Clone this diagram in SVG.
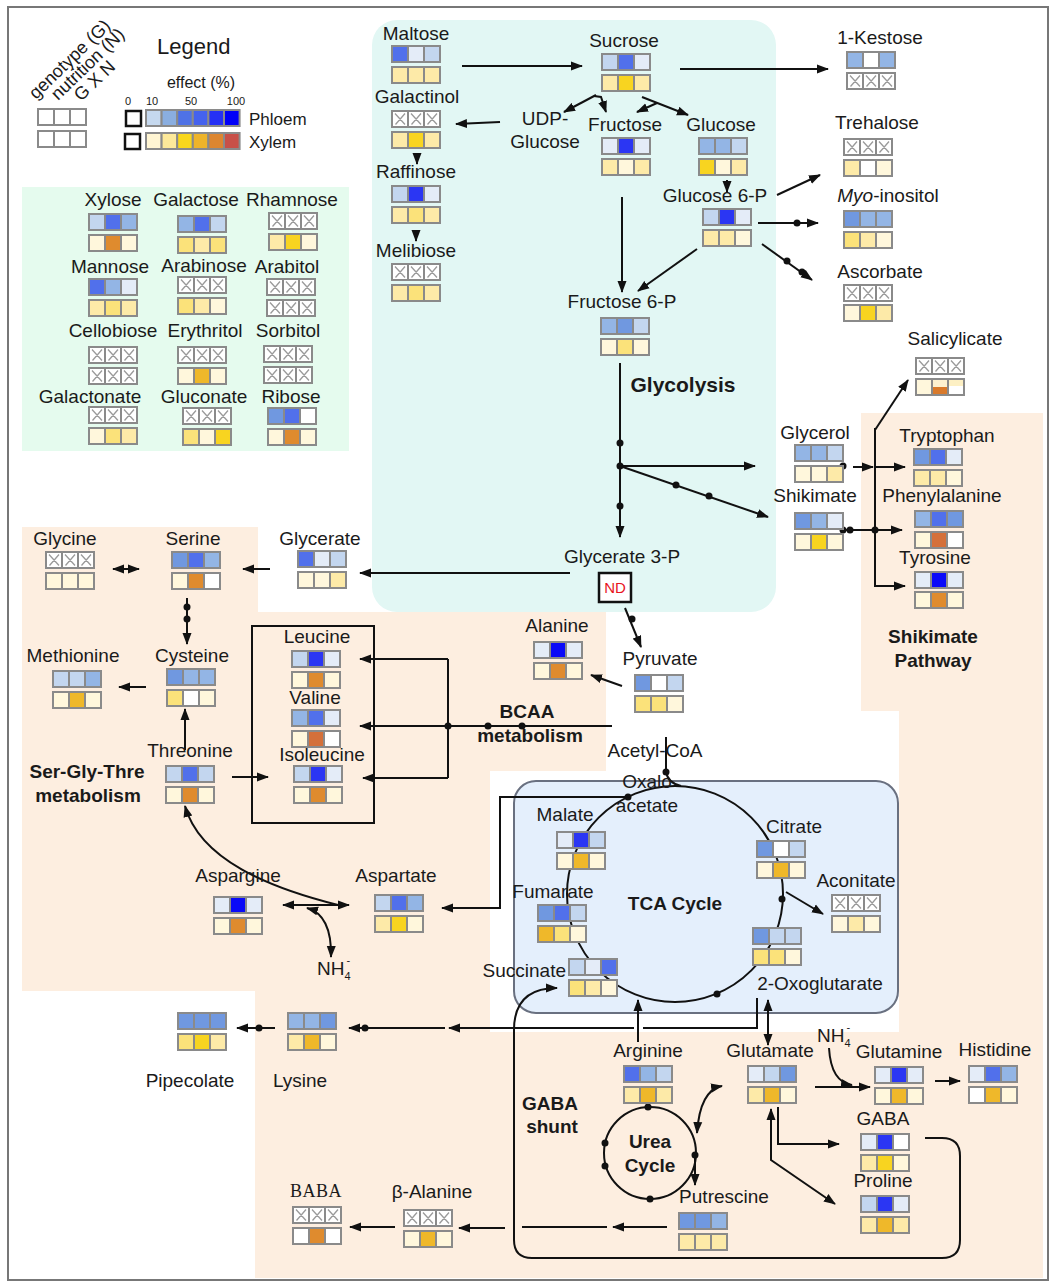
<svg xmlns="http://www.w3.org/2000/svg" width="1053" height="1285" viewBox="0 0 1053 1285">
<defs>
<style>
.t{font-family:"Liberation Sans",Arial,Helvetica,sans-serif;font-size:19px;fill:#1a1a1a;text-anchor:middle}
.b{font-weight:bold}
.c{stroke:#8a8a8a;stroke-width:2}
.n{fill:none}
.p0{fill:#ffffff}.p1{fill:#e4ecf8}.p2{fill:#c3d6ef}.p3{fill:#93b5e5}.p4{fill:#7098e0}.p5{fill:#5170eb}.p6{fill:#2b36f3}.p7{fill:#0a0af8}
.y0{fill:#ffffff}.y1{fill:#fff7dc}.y2{fill:#fdeaa8}.y3{fill:#fbe27a}.y4{fill:#f8d420}.y5{fill:#efb82a}.y6{fill:#df8b2e}.y7{fill:#d4703a}
.ln{fill:none;stroke:#111;stroke-width:2}
.ar{marker-end:url(#ah)}
.as{marker-start:url(#ah)}
.d{fill:#111}
</style>
<marker id="ah" viewBox="0 0 12 10" refX="11" refY="5" markerWidth="12" markerHeight="10" markerUnits="userSpaceOnUse" orient="auto-start-reverse"><path d="M0,0.5 L12,5 L0,9.5 z" fill="#111"/></marker>
<g id="xr">
<rect class="c p0" x="0" y="0" width="16" height="16"/><rect class="c p0" x="16" y="0" width="16" height="16"/><rect class="c p0" x="32" y="0" width="16" height="16"/>
<path d="M3,2.5 L13,13.5 M13,2.5 L3.5,13.5 M19,2.5 L29,13.5 M29,2.5 L19.5,13.5 M35,2.5 L45,13.5 M45,2.5 L35.5,13.5" stroke="#9a9a9a" stroke-width="1.3" fill="none"/>
</g>
</defs>

<g id="background">
<rect width="1053" height="1285" fill="#fff"/>
<polygon points="22,527 258,527 258,612 606,612 606,771 490,771 490,1032 899,1032 899,711 861,711 861,413 1043,413 1043,1278 255,1278 255,991 22,991" fill="#fdeee0"/>
<rect x="22" y="187" width="327" height="264" fill="#e5fbee"/>
<rect x="372" y="20" width="404" height="592" rx="25" fill="#e2f7f4"/>
<rect x="514" y="781" width="384" height="232" rx="22" fill="#e4effc" stroke="#697080" stroke-width="2"/>
<rect x="8" y="7" width="1040" height="1273" fill="none" stroke="#777" stroke-width="2"/>
<rect x="252" y="626" width="122" height="197" fill="none" stroke="#111" stroke-width="2"/>
</g>

<g id="legend">
<text class="t" x="157" y="54" style="font-size:22px;text-anchor:start">Legend</text>
<text class="t" style="font-size:18px;text-anchor:start" transform="translate(36,100) rotate(-44)">genotype (G)</text>
<text class="t" style="font-size:18px;text-anchor:start" transform="translate(58,101) rotate(-44)">nutrition (N)</text>
<text class="t" style="font-size:18px;text-anchor:start" transform="translate(81,102) rotate(-44)">G X N</text>
<rect class="c p0" x="38" y="109" width="16" height="16"/><rect class="c p0" x="54" y="109" width="16" height="16"/><rect class="c p0" x="70" y="109" width="16" height="16"/>
<rect class="c p0" x="38" y="131" width="16" height="16"/><rect class="c p0" x="54" y="131" width="16" height="16"/><rect class="c p0" x="70" y="131" width="16" height="16"/>
<text class="t" x="201" y="88" style="font-size:16px">effect (%)</text>
<text class="t" x="128" y="105" style="font-size:11px">0</text>
<text class="t" x="152" y="105" style="font-size:11px">10</text>
<text class="t" x="191" y="105" style="font-size:11px">50</text>
<text class="t" x="236" y="105" style="font-size:11px">100</text>
<rect x="126" y="111" width="15" height="15" fill="#fff" stroke="#111" stroke-width="2.5"/>
<rect x="125" y="134" width="15" height="15" fill="#fff" stroke="#111" stroke-width="2.5"/>
<rect class="c" x="146" y="110" width="15.6" height="16" fill="#c5d8ee"/><rect class="c" x="161.6" y="110" width="15.6" height="16" fill="#8aaee0"/><rect class="c" x="177.2" y="110" width="15.6" height="16" fill="#4f72e6"/><rect class="c" x="192.8" y="110" width="15.6" height="16" fill="#4562ee"/><rect class="c" x="208.4" y="110" width="15.6" height="16" fill="#2530f5"/><rect class="c" x="224" y="110" width="15.6" height="16" fill="#0000f8"/>
<rect class="c" x="146" y="133" width="15.6" height="16" fill="#fff5d3"/><rect class="c" x="161.6" y="133" width="15.6" height="16" fill="#fde99a"/><rect class="c" x="177.2" y="133" width="15.6" height="16" fill="#f9d71c"/><rect class="c" x="192.8" y="133" width="15.6" height="16" fill="#eeb42a"/><rect class="c" x="208.4" y="133" width="15.6" height="16" fill="#dd8630"/><rect class="c" x="224" y="133" width="15.6" height="16" fill="#c85048"/>
<text class="t" x="249" y="125" style="font-size:17px;text-anchor:start">Phloem</text>
<text class="t" x="249" y="148" style="font-size:17px;text-anchor:start">Xylem</text>
</g>

<g id="connectors">
<path class="ln ar" d="M462,66 L582,66"/>
<path class="ln ar" d="M680,69 L828,69"/>
<path class="ln ar" d="M596,95 L564,112"/>
<path class="ln ar" d="M594,96 L601,97 L606,112"/>
<path class="ln ar" d="M642,97 L688,115"/>
<path class="ln ar" d="M657,103 L637,112"/>
<path class="ln ar" d="M500,122 L456,124"/>
<path class="ln ar" d="M417,153 L417,164"/>
<path class="ln ar" d="M416,230 L416,241"/>
<path class="ln ar" d="M727,180 L727,192"/>
<path class="ln ar" d="M622,197 L622,292"/>
<path class="ln ar" d="M697,249 L638,291"/>
<path class="ln ar" d="M777,195 L820,175"/>
<path class="ln ar" d="M758,223 L818,223"/><circle class="d" cx="797" cy="223" r="3.5"/>
<path class="ln ar" d="M762,244 L812,280"/><circle class="d" cx="787" cy="261" r="3.5"/><circle class="d" cx="802" cy="272" r="3.5"/>
<path class="ln ar" d="M620,363 L620,537"/><circle class="d" cx="620" cy="443" r="3.5"/><circle class="d" cx="620" cy="466" r="3.5"/><circle class="d" cx="620" cy="506" r="3.5"/>
<path class="ln ar" d="M620,466 L755,466"/>
<path class="ln ar" d="M620,466 L768,517"/><circle class="d" cx="676" cy="485" r="3.5"/><circle class="d" cx="709" cy="496" r="3.5"/>
<path class="ln ar" d="M570,573 L360,573"/>
<path class="ln ar" d="M270,569 L243,569"/>
<path class="ln ar as" d="M113,569 L139,569"/>
<path class="ln ar" d="M187,598 L187,644"/><circle class="d" cx="187" cy="607" r="3.5"/><circle class="d" cx="187" cy="619" r="3.5"/>
<path class="ln ar" d="M146,687 L119,687"/>
<path class="ln ar" d="M185,750 L185,709"/>
<path class="ln ar" d="M232,777 L268,777"/>
<path class="ln ar" d="M338,905 C270,888 200,860 185,806"/>
<path class="ln ar as" d="M283,905 L349,905"/>
<path class="ln ar as" d="M307,908 Q332,915 331,957"/>
<path class="ln ar" d="M628,797 L500,797 L500,908 L442,908"/><circle class="d" cx="628" cy="797" r="3.5"/>
<path class="ln ar" d="M622,686 L591,675"/>
<path class="ln ar" d="M625,608 L641,647"/><circle class="d" cx="632" cy="619" r="3.5"/>
<path class="ln ar" d="M612,726 L360,726"/><circle class="d" cx="522" cy="726" r="3.5"/><circle class="d" cx="488" cy="726" r="3.5"/><circle class="d" cx="448" cy="726" r="3.5"/>
<path class="ln" d="M448,659 L448,778"/>
<path class="ln ar" d="M448,659 L360,659"/>
<path class="ln ar" d="M448,778 L363,778"/>
<path class="ln" d="M666,737 L666,772 Q668,783 681,786"/><circle class="d" cx="666" cy="772" r="3.5"/>
<circle class="ln" cx="675" cy="894" r="108"/>
<circle class="d" cx="782" cy="899" r="3.5"/><circle class="d" cx="717" cy="994" r="3.5"/>
<path class="ln ar" d="M786,892 L823,914"/>
<path class="ln ar" d="M925,1138 L942,1138 Q960,1138 960,1156 L960,1240 Q960,1258 942,1258 L532,1258 Q514,1258 514,1240 L514,1030 Q514,988 557,988"/>
<path class="ln ar" d="M667,1227 L613,1227"/>
<path class="ln" d="M607,1227 L522,1227"/>
<path class="ln ar" d="M505,1228 L459,1228"/>
<path class="ln ar" d="M395,1227 L350,1227"/>
<path class="ln" d="M757,998 L757,1028 L643,1028"/>
<path class="ln ar" d="M634,1028 L449,1028"/>
<path class="ln ar" d="M445,1028 L349,1028"/><circle class="d" cx="365" cy="1028" r="3.5"/>
<path class="ln ar" d="M275,1028 L237,1028"/><circle class="d" cx="259" cy="1028" r="3.5"/>
<path class="ln ar" d="M638,1042 L638,1000"/>
<path class="ln ar as" d="M768,1000 L768,1045"/>
<path class="ln ar" d="M778,1107 L778,1144 L839,1144"/>
<path class="ln ar as" d="M771,1109 L771,1160 L835,1204"/>
<path class="ln ar" d="M815,1087 L870,1087"/>
<path class="ln ar" d="M829,1048 Q831,1082 852,1085"/>
<path class="ln ar" d="M935,1081 L960,1081"/>
<circle class="ln" cx="650" cy="1153" r="46"/>
<circle class="d" cx="648" cy="1107" r="3.5"/><circle class="d" cx="605" cy="1143" r="3.5"/><circle class="d" cx="605" cy="1166" r="3.5"/><circle class="d" cx="650" cy="1199" r="3.5"/><circle class="d" cx="695" cy="1155" r="3.5"/>
<path class="ln ar as" d="M697,1133 Q700,1090 722,1086"/>
<path class="ln ar" d="M695,1155 L695,1185"/>
<circle class="d" cx="843" cy="466" r="3.5"/>
<path class="ln ar" d="M853,467 L873,467"/>
<path class="ln ar" d="M875,430 L908,380"/>
<path class="ln ar" d="M875,428 L875,586 L905,586"/>
<path class="ln ar" d="M875,467 L905,467"/>
<path class="ln ar" d="M843,530 L902,530"/><circle class="d" cx="843" cy="530" r="3.5"/><circle class="d" cx="850" cy="530" r="3.5"/><circle class="d" cx="875" cy="530" r="3.5"/>
</g>

<g id="labels">
<text class="t b" x="683" y="392" style="font-size:21px">Glycolysis</text>
<text class="t b" x="675" y="910">TCA Cycle</text>
<text class="t b" x="933" y="643">Shikimate</text>
<text class="t b" x="933" y="667">Pathway</text>
<text class="t b" x="527" y="718">BCAA</text>
<text class="t b" x="530" y="742">metabolism</text>
<text class="t b" x="87" y="778">Ser-Gly-Thre</text>
<text class="t b" x="88" y="802">metabolism</text>
<text class="t b" x="550" y="1110">GABA</text>
<text class="t b" x="552" y="1133">shunt</text>
<text class="t b" x="650" y="1148">Urea</text>
<text class="t b" x="650" y="1172">Cycle</text>
</g>

<g id="xylose"><text class="t" x="113" y="206">Xylose</text>
<rect class="c p2" x="89" y="214" width="16" height="16"/><rect class="c p5" x="105" y="214" width="16" height="16"/><rect class="c p3" x="121" y="214" width="16" height="16"/>
<rect class="c y1" x="89" y="235" width="16" height="16"/><rect class="c y6" x="105" y="235" width="16" height="16"/><rect class="c y1" x="121" y="235" width="16" height="16"/></g>
<g id="galactose"><text class="t" x="196" y="206">Galactose</text>
<rect class="c p3" x="178" y="216" width="16" height="16"/><rect class="c p5" x="194" y="216" width="16" height="16"/><rect class="c p2" x="210" y="216" width="16" height="16"/>
<rect class="c y3" x="178" y="237" width="16" height="16"/><rect class="c y2" x="194" y="237" width="16" height="16"/><rect class="c y3" x="210" y="237" width="16" height="16"/></g>
<g id="rhamnose"><text class="t" x="292" y="206">Rhamnose</text>
<use href="#xr" x="269" y="213"/>
<rect class="c y2" x="269" y="234" width="16" height="16"/><rect class="c y4" x="285" y="234" width="16" height="16"/><rect class="c y1" x="301" y="234" width="16" height="16"/></g>
<g id="mannose"><text class="t" x="110" y="273">Mannose</text>
<rect class="c p5" x="89" y="279" width="16" height="16"/><rect class="c p3" x="105" y="279" width="16" height="16"/><rect class="c p1" x="121" y="279" width="16" height="16"/>
<rect class="c y2" x="89" y="300" width="16" height="16"/><rect class="c y3" x="105" y="300" width="16" height="16"/><rect class="c y2" x="121" y="300" width="16" height="16"/></g>
<g id="arabinose"><text class="t" x="204" y="272">Arabinose</text>
<use href="#xr" x="178" y="277"/>
<rect class="c y3" x="178" y="298" width="16" height="16"/><rect class="c y2" x="194" y="298" width="16" height="16"/><rect class="c y1" x="210" y="298" width="16" height="16"/></g>
<g id="arabitol"><text class="t" x="287" y="273">Arabitol</text>
<use href="#xr" x="267" y="279"/><use href="#xr" x="267" y="300"/></g>
<g id="cellobiose"><text class="t" x="113" y="337">Cellobiose</text>
<use href="#xr" x="89" y="347"/><use href="#xr" x="89" y="368"/></g>
<g id="erythritol"><text class="t" x="205" y="337">Erythritol</text>
<use href="#xr" x="178" y="347"/>
<rect class="c y1" x="178" y="368" width="16" height="16"/><rect class="c y5" x="194" y="368" width="16" height="16"/><rect class="c y1" x="210" y="368" width="16" height="16"/></g>
<g id="sorbitol"><text class="t" x="288" y="337">Sorbitol</text>
<use href="#xr" x="264" y="346"/><use href="#xr" x="264" y="367"/></g>
<g id="galactonate"><text class="t" x="90" y="403">Galactonate</text>
<use href="#xr" x="89" y="407"/>
<rect class="c y1" x="89" y="428" width="16" height="16"/><rect class="c y3" x="105" y="428" width="16" height="16"/><rect class="c y2" x="121" y="428" width="16" height="16"/></g>
<g id="gluconate"><text class="t" x="204" y="403">Gluconate</text>
<use href="#xr" x="183" y="408"/>
<rect class="c y3" x="183" y="429" width="16" height="16"/><rect class="c y1" x="199" y="429" width="16" height="16"/><rect class="c y4" x="215" y="429" width="16" height="16"/></g>
<g id="ribose"><text class="t" x="291" y="403">Ribose</text>
<rect class="c p4" x="268" y="408" width="16" height="16"/><rect class="c p5" x="284" y="408" width="16" height="16"/><rect class="c p0" x="300" y="408" width="16" height="16"/>
<rect class="c y1" x="268" y="429" width="16" height="16"/><rect class="c y6" x="284" y="429" width="16" height="16"/><rect class="c y1" x="300" y="429" width="16" height="16"/></g>

<g id="maltose"><text class="t" x="416" y="40">Maltose</text>
<rect class="c p5" x="392" y="46" width="16" height="16"/><rect class="c p1" x="408" y="46" width="16" height="16"/><rect class="c p2" x="424" y="46" width="16" height="16"/>
<rect class="c y2" x="392" y="67" width="16" height="16"/><rect class="c y2" x="408" y="67" width="16" height="16"/><rect class="c y2" x="424" y="67" width="16" height="16"/></g>
<g id="sucrose"><text class="t" x="624" y="47">Sucrose</text>
<rect class="c p2" x="602" y="54" width="16" height="16"/><rect class="c p5" x="618" y="54" width="16" height="16"/><rect class="c p1" x="634" y="54" width="16" height="16"/>
<rect class="c y2" x="602" y="75" width="16" height="16"/><rect class="c y4" x="618" y="75" width="16" height="16"/><rect class="c y2" x="634" y="75" width="16" height="16"/></g>
<g id="galactinol"><text class="t" x="417" y="103">Galactinol</text>
<use href="#xr" x="392" y="111"/>
<rect class="c y2" x="392" y="132" width="16" height="16"/><rect class="c y4" x="408" y="132" width="16" height="16"/><rect class="c y2" x="424" y="132" width="16" height="16"/></g>
<g id="udp-glucose"><text class="t" x="545" y="125">UDP-</text><text class="t" x="545" y="148">Glucose</text></g>
<g id="fructose"><text class="t" x="625" y="131">Fructose</text>
<rect class="c p1" x="602" y="138" width="16" height="16"/><rect class="c p6" x="618" y="138" width="16" height="16"/><rect class="c p1" x="634" y="138" width="16" height="16"/>
<rect class="c y2" x="602" y="159" width="16" height="16"/><rect class="c y1" x="618" y="159" width="16" height="16"/><rect class="c y2" x="634" y="159" width="16" height="16"/></g>
<g id="glucose"><text class="t" x="721" y="131">Glucose</text>
<rect class="c p3" x="699" y="138" width="16" height="16"/><rect class="c p3" x="715" y="138" width="16" height="16"/><rect class="c p2" x="731" y="138" width="16" height="16"/>
<rect class="c y4" x="699" y="159" width="16" height="16"/><rect class="c y1" x="715" y="159" width="16" height="16"/><rect class="c y2" x="731" y="159" width="16" height="16"/></g>
<g id="raffinose"><text class="t" x="416" y="178">Raffinose</text>
<rect class="c p2" x="392" y="186" width="16" height="16"/><rect class="c p6" x="408" y="186" width="16" height="16"/><rect class="c p1" x="424" y="186" width="16" height="16"/>
<rect class="c y2" x="392" y="207" width="16" height="16"/><rect class="c y3" x="408" y="207" width="16" height="16"/><rect class="c y2" x="424" y="207" width="16" height="16"/></g>
<g id="melibiose"><text class="t" x="416" y="257">Melibiose</text>
<use href="#xr" x="392" y="264"/>
<rect class="c y2" x="392" y="285" width="16" height="16"/><rect class="c y3" x="408" y="285" width="16" height="16"/><rect class="c y2" x="424" y="285" width="16" height="16"/></g>
<g id="glucose-6-p"><text class="t" x="715" y="202">Glucose 6-P</text>
<rect class="c p2" x="703" y="209" width="16" height="16"/><rect class="c p6" x="719" y="209" width="16" height="16"/><rect class="c p1" x="735" y="209" width="16" height="16"/>
<rect class="c y2" x="703" y="230" width="16" height="16"/><rect class="c y2" x="719" y="230" width="16" height="16"/><rect class="c y1" x="735" y="230" width="16" height="16"/></g>
<g id="fructose-6-p"><text class="t" x="622" y="308">Fructose 6-P</text>
<rect class="c p3" x="601" y="318" width="16" height="16"/><rect class="c p4" x="617" y="318" width="16" height="16"/><rect class="c p2" x="633" y="318" width="16" height="16"/>
<rect class="c y1" x="601" y="339" width="16" height="16"/><rect class="c y3" x="617" y="339" width="16" height="16"/><rect class="c y1" x="633" y="339" width="16" height="16"/></g>
<g id="glycerate-3-p"><text class="t" x="622" y="563">Glycerate 3-P</text>
<rect x="599" y="573" width="32" height="29" fill="#fff" stroke="#111" stroke-width="2.5"/>
<text class="t" x="615" y="593" style="fill:#e8141c;font-size:15px">ND</text></g>

<g id="kestose"><text class="t" x="880" y="44">1-Kestose</text>
<rect class="c p3" x="847" y="52" width="16" height="16"/><rect class="c p0" x="863" y="52" width="16" height="16"/><rect class="c p3" x="879" y="52" width="16" height="16"/>
<use href="#xr" x="847" y="73"/></g>
<g id="trehalose"><text class="t" x="877" y="129">Trehalose</text>
<use href="#xr" x="844" y="139"/>
<rect class="c y2" x="844" y="160" width="16" height="16"/><rect class="c y0" x="860" y="160" width="16" height="16"/><rect class="c y1" x="876" y="160" width="16" height="16"/></g>
<g id="myo-inositol"><text class="t" x="888" y="202"><tspan font-style="italic">Myo</tspan>-inositol</text>
<rect class="c p4" x="844" y="211" width="16" height="16"/><rect class="c p3" x="860" y="211" width="16" height="16"/><rect class="c p3" x="876" y="211" width="16" height="16"/>
<rect class="c y3" x="844" y="232" width="16" height="16"/><rect class="c y2" x="860" y="232" width="16" height="16"/><rect class="c y1" x="876" y="232" width="16" height="16"/></g>
<g id="ascorbate"><text class="t" x="880" y="278">Ascorbate</text>
<use href="#xr" x="844" y="285"/>
<rect class="c y1" x="844" y="305" width="16" height="16"/><rect class="c y4" x="860" y="305" width="16" height="16"/><rect class="c y2" x="876" y="305" width="16" height="16"/></g>
<g id="salicylicate"><text class="t" x="955" y="345">Salicylicate</text>
<use href="#xr" x="916" y="358"/>
<rect class="c y1" x="916" y="379" width="16" height="16"/>
<rect x="932" y="379" width="16" height="16" fill="#fdf1d0"/><rect x="932" y="387" width="16" height="8" fill="#d97a2c"/>
<rect x="948" y="379" width="16" height="16" fill="#fff"/><rect x="948" y="379" width="16" height="7" fill="#fdf0c4"/>
<rect class="c n" x="932" y="379" width="16" height="16"/><rect class="c n" x="948" y="379" width="16" height="16"/></g>
<g id="glycerol"><text class="t" x="815" y="439">Glycerol</text>
<rect class="c p3" x="795" y="445" width="16" height="16"/><rect class="c p3" x="811" y="445" width="16" height="16"/><rect class="c p2" x="827" y="445" width="16" height="16"/>
<rect class="c y1" x="795" y="466" width="16" height="16"/><rect class="c y1" x="811" y="466" width="16" height="16"/><rect class="c y2" x="827" y="466" width="16" height="16"/></g>
<g id="shikimate"><text class="t" x="815" y="502">Shikimate</text>
<rect class="c p4" x="795" y="513" width="16" height="16"/><rect class="c p3" x="811" y="513" width="16" height="16"/><rect class="c p1" x="827" y="513" width="16" height="16"/>
<rect class="c y1" x="795" y="534" width="16" height="16"/><rect class="c y4" x="811" y="534" width="16" height="16"/><rect class="c y1" x="827" y="534" width="16" height="16"/></g>
<g id="tryptophan"><text class="t" x="947" y="442">Tryptophan</text>
<rect class="c p4" x="914" y="449" width="16" height="16"/><rect class="c p5" x="930" y="449" width="16" height="16"/><rect class="c p1" x="946" y="449" width="16" height="16"/>
<rect class="c y2" x="914" y="470" width="16" height="16"/><rect class="c y2" x="930" y="470" width="16" height="16"/><rect class="c y1" x="946" y="470" width="16" height="16"/></g>
<g id="phenylalanine"><text class="t" x="942" y="502">Phenylalanine</text>
<rect class="c p3" x="915" y="511" width="16" height="16"/><rect class="c p5" x="931" y="511" width="16" height="16"/><rect class="c p4" x="947" y="511" width="16" height="16"/>
<rect class="c y1" x="915" y="532" width="16" height="16"/><rect class="c y7" x="931" y="532" width="16" height="16"/><rect class="c y0" x="947" y="532" width="16" height="16"/></g>
<g id="tyrosine"><text class="t" x="935" y="564">Tyrosine</text>
<rect class="c p1" x="915" y="572" width="16" height="16"/><rect class="c p7" x="931" y="572" width="16" height="16"/><rect class="c p1" x="947" y="572" width="16" height="16"/>
<rect class="c y1" x="915" y="592" width="16" height="16"/><rect class="c y6" x="931" y="592" width="16" height="16"/><rect class="c y1" x="947" y="592" width="16" height="16"/></g>
<g id="pyruvate"><text class="t" x="660" y="665">Pyruvate</text>
<rect class="c p4" x="635" y="675" width="16" height="16"/><rect class="c p0" x="651" y="675" width="16" height="16"/><rect class="c p2" x="667" y="675" width="16" height="16"/>
<rect class="c y3" x="635" y="696" width="16" height="16"/><rect class="c y3" x="651" y="696" width="16" height="16"/><rect class="c y1" x="667" y="696" width="16" height="16"/></g>

<g id="glycine"><text class="t" x="65" y="545">Glycine</text>
<use href="#xr" x="46" y="552"/>
<rect class="c y1" x="46" y="573" width="16" height="16"/><rect class="c y1" x="62" y="573" width="16" height="16"/><rect class="c y1" x="78" y="573" width="16" height="16"/></g>
<g id="serine"><text class="t" x="193" y="545">Serine</text>
<rect class="c p4" x="172" y="552" width="16" height="16"/><rect class="c p5" x="188" y="552" width="16" height="16"/><rect class="c p3" x="204" y="552" width="16" height="16"/>
<rect class="c y1" x="172" y="573" width="16" height="16"/><rect class="c y6" x="188" y="573" width="16" height="16"/><rect class="c y0" x="204" y="573" width="16" height="16"/></g>
<g id="glycerate"><text class="t" x="320" y="545">Glycerate</text>
<rect class="c p5" x="298" y="551" width="16" height="16"/><rect class="c p1" x="314" y="551" width="16" height="16"/><rect class="c p2" x="330" y="551" width="16" height="16"/>
<rect class="c y1" x="298" y="572" width="16" height="16"/><rect class="c y1" x="314" y="572" width="16" height="16"/><rect class="c y2" x="330" y="572" width="16" height="16"/></g>
<g id="methionine"><text class="t" x="73" y="662">Methionine</text>
<rect class="c p2" x="53" y="671" width="16" height="16"/><rect class="c p2" x="69" y="671" width="16" height="16"/><rect class="c p3" x="85" y="671" width="16" height="16"/>
<rect class="c y1" x="53" y="692" width="16" height="16"/><rect class="c y5" x="69" y="692" width="16" height="16"/><rect class="c y1" x="85" y="692" width="16" height="16"/></g>
<g id="cysteine"><text class="t" x="192" y="662">Cysteine</text>
<rect class="c p4" x="167" y="669" width="16" height="16"/><rect class="c p3" x="183" y="669" width="16" height="16"/><rect class="c p3" x="199" y="669" width="16" height="16"/>
<rect class="c y3" x="167" y="690" width="16" height="16"/><rect class="c y0" x="183" y="690" width="16" height="16"/><rect class="c y1" x="199" y="690" width="16" height="16"/></g>
<g id="threonine"><text class="t" x="190" y="757">Threonine</text>
<rect class="c p2" x="166" y="766" width="16" height="16"/><rect class="c p5" x="182" y="766" width="16" height="16"/><rect class="c p2" x="198" y="766" width="16" height="16"/>
<rect class="c y1" x="166" y="787" width="16" height="16"/><rect class="c y6" x="182" y="787" width="16" height="16"/><rect class="c y1" x="198" y="787" width="16" height="16"/></g>
<g id="leucine"><text class="t" x="317" y="643">Leucine</text>
<rect class="c p2" x="292" y="651" width="16" height="16"/><rect class="c p6" x="308" y="651" width="16" height="16"/><rect class="c p1" x="324" y="651" width="16" height="16"/>
<rect class="c y1" x="292" y="672" width="16" height="16"/><rect class="c y6" x="308" y="672" width="16" height="16"/><rect class="c y1" x="324" y="672" width="16" height="16"/></g>
<g id="valine"><text class="t" x="315" y="704">Valine</text>
<rect class="c p3" x="292" y="710" width="16" height="16"/><rect class="c p5" x="308" y="710" width="16" height="16"/><rect class="c p1" x="324" y="710" width="16" height="16"/>
<rect class="c y1" x="292" y="731" width="16" height="16"/><rect class="c y7" x="308" y="731" width="16" height="16"/><rect class="c y0" x="324" y="731" width="16" height="16"/></g>
<g id="isoleucine"><text class="t" x="322" y="761">Isoleucine</text>
<rect class="c p2" x="294" y="766" width="16" height="16"/><rect class="c p6" x="310" y="766" width="16" height="16"/><rect class="c p1" x="326" y="766" width="16" height="16"/>
<rect class="c y1" x="294" y="787" width="16" height="16"/><rect class="c y6" x="310" y="787" width="16" height="16"/><rect class="c y1" x="326" y="787" width="16" height="16"/></g>
<g id="alanine"><text class="t" x="557" y="632">Alanine</text>
<rect class="c p1" x="534" y="642" width="16" height="16"/><rect class="c p7" x="550" y="642" width="16" height="16"/><rect class="c p1" x="566" y="642" width="16" height="16"/>
<rect class="c y1" x="534" y="663" width="16" height="16"/><rect class="c y6" x="550" y="663" width="16" height="16"/><rect class="c y1" x="566" y="663" width="16" height="16"/></g>

<g id="acetyl-coa"><text class="t" x="655" y="757">Acetyl-CoA</text></g>
<g id="oxaloacetate"><text class="t" x="647" y="788">Oxalo</text><text class="t" x="647" y="812">acetate</text></g>
<g id="malate"><text class="t" x="565" y="821">Malate</text>
<rect class="c p1" x="557" y="832" width="16" height="16"/><rect class="c p6" x="573" y="832" width="16" height="16"/><rect class="c p2" x="589" y="832" width="16" height="16"/>
<rect class="c y1" x="557" y="853" width="16" height="16"/><rect class="c y5" x="573" y="853" width="16" height="16"/><rect class="c y1" x="589" y="853" width="16" height="16"/></g>
<g id="citrate"><text class="t" x="794" y="833">Citrate</text>
<rect class="c p4" x="757" y="841" width="16" height="16"/><rect class="c p0" x="773" y="841" width="16" height="16"/><rect class="c p2" x="789" y="841" width="16" height="16"/>
<rect class="c y1" x="757" y="862" width="16" height="16"/><rect class="c y5" x="773" y="862" width="16" height="16"/><rect class="c y1" x="789" y="862" width="16" height="16"/></g>
<g id="aconitate"><text class="t" x="856" y="887">Aconitate</text>
<use href="#xr" x="832" y="895"/>
<rect class="c y1" x="832" y="916" width="16" height="16"/><rect class="c y2" x="848" y="916" width="16" height="16"/><rect class="c y1" x="864" y="916" width="16" height="16"/></g>
<g id="oxoglutarate"><text class="t" x="820" y="990">2-Oxoglutarate</text>
<rect class="c p4" x="753" y="928" width="16" height="16"/><rect class="c p2" x="769" y="928" width="16" height="16"/><rect class="c p2" x="785" y="928" width="16" height="16"/>
<rect class="c y3" x="753" y="949" width="16" height="16"/><rect class="c y3" x="769" y="949" width="16" height="16"/><rect class="c y1" x="785" y="949" width="16" height="16"/></g>
<g id="fumarate"><text class="t" x="553" y="898">Fumarate</text>
<rect class="c p4" x="538" y="905" width="16" height="16"/><rect class="c p5" x="554" y="905" width="16" height="16"/><rect class="c p2" x="570" y="905" width="16" height="16"/>
<rect class="c y5" x="538" y="926" width="16" height="16"/><rect class="c y3" x="554" y="926" width="16" height="16"/><rect class="c y1" x="570" y="926" width="16" height="16"/></g>
<g id="succinate"><text class="t" x="566" y="977" style="text-anchor:end">Succinate</text>
<rect class="c p2" x="569" y="959" width="16" height="16"/><rect class="c p1" x="585" y="959" width="16" height="16"/><rect class="c p5" x="601" y="959" width="16" height="16"/>
<rect class="c y3" x="569" y="980" width="16" height="16"/><rect class="c y2" x="585" y="980" width="16" height="16"/><rect class="c y1" x="601" y="980" width="16" height="16"/></g>

<g id="aspargine"><text class="t" x="238" y="882">Aspargine</text>
<rect class="c p1" x="214" y="897" width="16" height="16"/><rect class="c p7" x="230" y="897" width="16" height="16"/><rect class="c p1" x="246" y="897" width="16" height="16"/>
<rect class="c y1" x="214" y="918" width="16" height="16"/><rect class="c y6" x="230" y="918" width="16" height="16"/><rect class="c y1" x="246" y="918" width="16" height="16"/></g>
<g id="aspartate"><text class="t" x="396" y="882">Aspartate</text>
<rect class="c p2" x="375" y="895" width="16" height="16"/><rect class="c p5" x="391" y="895" width="16" height="16"/><rect class="c p3" x="407" y="895" width="16" height="16"/>
<rect class="c y2" x="375" y="916" width="16" height="16"/><rect class="c y4" x="391" y="916" width="16" height="16"/><rect class="c y1" x="407" y="916" width="16" height="16"/></g>
<g id="nh4-a"><text class="t" x="317" y="975" style="text-anchor:start">NH<tspan font-size="11" dy="5">4</tspan><tspan font-size="11" dx="-4" dy="-16">-</tspan></text></g>
<g id="pipecolate"><text class="t" x="190" y="1087">Pipecolate</text>
<rect class="c p4" x="178" y="1013" width="16" height="16"/><rect class="c p4" x="194" y="1013" width="16" height="16"/><rect class="c p4" x="210" y="1013" width="16" height="16"/>
<rect class="c y3" x="178" y="1034" width="16" height="16"/><rect class="c y4" x="194" y="1034" width="16" height="16"/><rect class="c y2" x="210" y="1034" width="16" height="16"/></g>
<g id="lysine"><text class="t" x="300" y="1087">Lysine</text>
<rect class="c p3" x="288" y="1013" width="16" height="16"/><rect class="c p3" x="304" y="1013" width="16" height="16"/><rect class="c p4" x="320" y="1013" width="16" height="16"/>
<rect class="c y2" x="288" y="1034" width="16" height="16"/><rect class="c y5" x="304" y="1034" width="16" height="16"/><rect class="c y1" x="320" y="1034" width="16" height="16"/></g>
<g id="arginine"><text class="t" x="648" y="1057">Arginine</text>
<rect class="c p5" x="624" y="1066" width="16" height="16"/><rect class="c p3" x="640" y="1066" width="16" height="16"/><rect class="c p2" x="656" y="1066" width="16" height="16"/>
<rect class="c y2" x="624" y="1087" width="16" height="16"/><rect class="c y5" x="640" y="1087" width="16" height="16"/><rect class="c y2" x="656" y="1087" width="16" height="16"/></g>
<g id="glutamate"><text class="t" x="770" y="1057">Glutamate</text>
<rect class="c p1" x="748" y="1066" width="16" height="16"/><rect class="c p2" x="764" y="1066" width="16" height="16"/><rect class="c p4" x="780" y="1066" width="16" height="16"/>
<rect class="c y2" x="748" y="1087" width="16" height="16"/><rect class="c y5" x="764" y="1087" width="16" height="16"/><rect class="c y1" x="780" y="1087" width="16" height="16"/></g>
<g id="nh4-b"><text class="t" x="817" y="1042" style="text-anchor:start">NH<tspan font-size="11" dy="5">4</tspan><tspan font-size="11" dx="-4" dy="-16">-</tspan></text></g>
<g id="glutamine"><text class="t" x="899" y="1058">Glutamine</text>
<rect class="c p1" x="875" y="1067" width="16" height="16"/><rect class="c p6" x="891" y="1067" width="16" height="16"/><rect class="c p1" x="907" y="1067" width="16" height="16"/>
<rect class="c y1" x="875" y="1088" width="16" height="16"/><rect class="c y5" x="891" y="1088" width="16" height="16"/><rect class="c y1" x="907" y="1088" width="16" height="16"/></g>
<g id="histidine"><text class="t" x="995" y="1056">Histidine</text>
<rect class="c p1" x="969" y="1066" width="16" height="16"/><rect class="c p5" x="985" y="1066" width="16" height="16"/><rect class="c p3" x="1001" y="1066" width="16" height="16"/>
<rect class="c y0" x="969" y="1087" width="16" height="16"/><rect class="c y5" x="985" y="1087" width="16" height="16"/><rect class="c y1" x="1001" y="1087" width="16" height="16"/></g>
<g id="gaba"><text class="t" x="883" y="1125">GABA</text>
<rect class="c p1" x="861" y="1134" width="16" height="16"/><rect class="c p6" x="877" y="1134" width="16" height="16"/><rect class="c p0" x="893" y="1134" width="16" height="16"/>
<rect class="c y2" x="861" y="1155" width="16" height="16"/><rect class="c y4" x="877" y="1155" width="16" height="16"/><rect class="c y1" x="893" y="1155" width="16" height="16"/></g>
<g id="proline"><text class="t" x="883" y="1187">Proline</text>
<rect class="c p2" x="861" y="1196" width="16" height="16"/><rect class="c p6" x="877" y="1196" width="16" height="16"/><rect class="c p1" x="893" y="1196" width="16" height="16"/>
<rect class="c y2" x="861" y="1217" width="16" height="16"/><rect class="c y5" x="877" y="1217" width="16" height="16"/><rect class="c y2" x="893" y="1217" width="16" height="16"/></g>
<g id="putrescine"><text class="t" x="724" y="1203">Putrescine</text>
<rect class="c p4" x="679" y="1213" width="16" height="16"/><rect class="c p4" x="695" y="1213" width="16" height="16"/><rect class="c p3" x="711" y="1213" width="16" height="16"/>
<rect class="c y2" x="679" y="1234" width="16" height="16"/><rect class="c y2" x="695" y="1234" width="16" height="16"/><rect class="c y2" x="711" y="1234" width="16" height="16"/></g>
<g id="baba"><text class="t" x="316" y="1197" style="font-family:'Liberation Serif','Times New Roman',serif;font-size:18px;letter-spacing:0.5px">BABA</text>
<use href="#xr" x="293" y="1207"/>
<rect class="c y0" x="293" y="1228" width="16" height="16"/><rect class="c y6" x="309" y="1228" width="16" height="16"/><rect class="c y0" x="325" y="1228" width="16" height="16"/></g>
<g id="beta-alanine"><text class="t" x="432" y="1198">β-Alanine</text>
<use href="#xr" x="404" y="1210"/>
<rect class="c y1" x="404" y="1231" width="16" height="16"/><rect class="c y5" x="420" y="1231" width="16" height="16"/><rect class="c y1" x="436" y="1231" width="16" height="16"/></g>
</svg>
